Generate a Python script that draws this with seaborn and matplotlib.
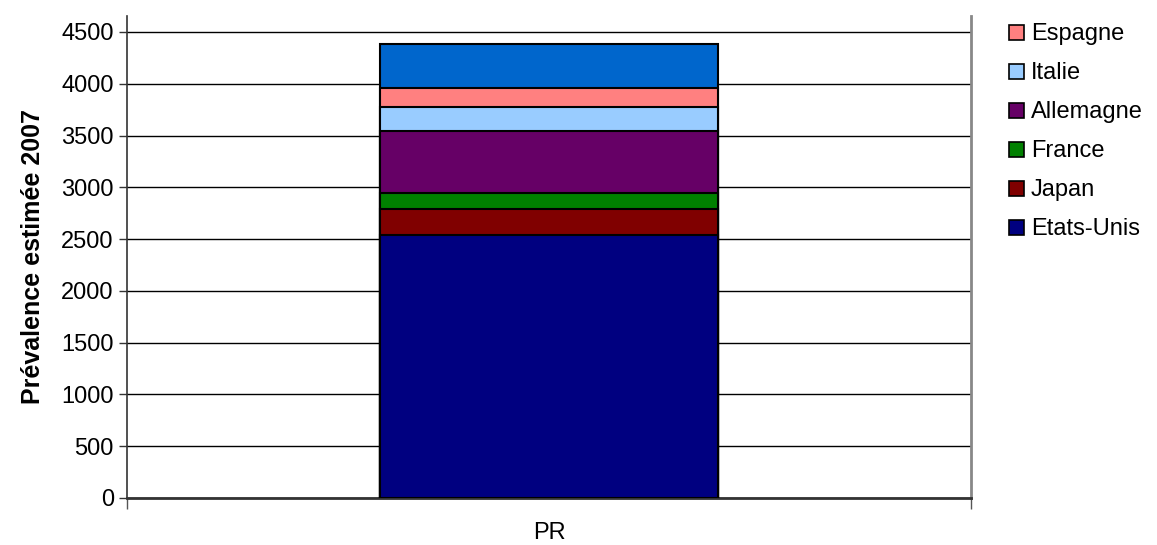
import matplotlib
matplotlib.use("Agg")
import matplotlib.pyplot as plt
import numpy as np
import pandas as pd
import seaborn as sns
from matplotlib.patches import Patch

# stack order bottom -> top; the top block has no legend entry in the source chart
categories = ["PR"]
series = ["Etats-Unis", "Japan", "France", "Allemagne", "Italie", "Espagne", "Autres"]
values = [2540, 248, 154, 602, 228, 190, 422]
colors = ["#000080", "#800000", "#008000", "#660066", "#99CCFF", "#FF8080", "#0066CC"]
legend_series = ["Espagne", "Italie", "Allemagne", "France", "Japan", "Etats-Unis"]
yticks = [0, 500, 1000, 1500, 2000, 2500, 3000, 3500, 4000, 4500]

sns.set_style("white")
plt.rcParams["font.family"] = ["Liberation Sans", "DejaVu Sans"]
plt.rcParams["text.color"] = "black"
plt.rcParams["axes.labelcolor"] = "black"
plt.rcParams["xtick.color"] = "black"
plt.rcParams["ytick.color"] = "black"

fig = plt.figure(figsize=(11.57, 5.45), dpi=100)
ax = fig.add_axes([127 / 1157, 1 - 498 / 545, (971 - 127) / 1157, (498 - 16) / 545])

cum = np.cumsum(values)
df = pd.DataFrame({"cat": categories * len(series), "serie": series, "top": cum})

# draw cumulative totals from the tallest down, so each shorter bar covers the one behind it
for i in range(len(series) - 1, -1, -1):
    sub = df.iloc[[i]]
    sns.barplot(data=sub, x="cat", y="top", color=colors[i], width=0.4,
                edgecolor="black", linewidth=1.5, saturation=1, ax=ax, zorder=3 + (len(series) - i))

ax.set_xlim(-0.5, 0.5)
ax.set_ylim(0, 4654)
ax.set_yticks(yticks)
ax.yaxis.grid(True, color="black", linewidth=1)
ax.set_axisbelow(True)

ax.set_xlabel("")
ax.set_ylabel("Prévalence estimée 2007", fontsize=18, fontweight="bold", labelpad=12)
ax.tick_params(axis="y", labelsize=17, length=6, width=1, color="#333333", direction="out", left=True)
ax.tick_params(axis="x", which="major", labelsize=17, length=0, pad=17)
ax.set_xticks([-0.5, 0.5], minor=True)
ax.tick_params(axis="x", which="minor", length=8, width=1, color="#555555", direction="out", bottom=True)

ax.spines["top"].set_visible(False)
ax.spines["left"].set_color("#333333")
ax.spines["left"].set_linewidth(1.2)
ax.spines["bottom"].set_color("#333333")
ax.spines["bottom"].set_linewidth(2)
ax.spines["right"].set_color("#888888")
ax.spines["right"].set_linewidth(2)

handles = [Patch(facecolor=colors[series.index(s)], edgecolor="black", linewidth=1.2, label=s)
           for s in legend_series]
fig.legend(handles=handles, loc="upper left", bbox_to_anchor=(1000 / 1157, 1 - 14 / 545),
           frameon=False, fontsize=17, handlelength=0.6, handleheight=0.6,
           handletextpad=0.3, labelspacing=0.72, borderaxespad=0)

fig.savefig("out.png", dpi=100)
